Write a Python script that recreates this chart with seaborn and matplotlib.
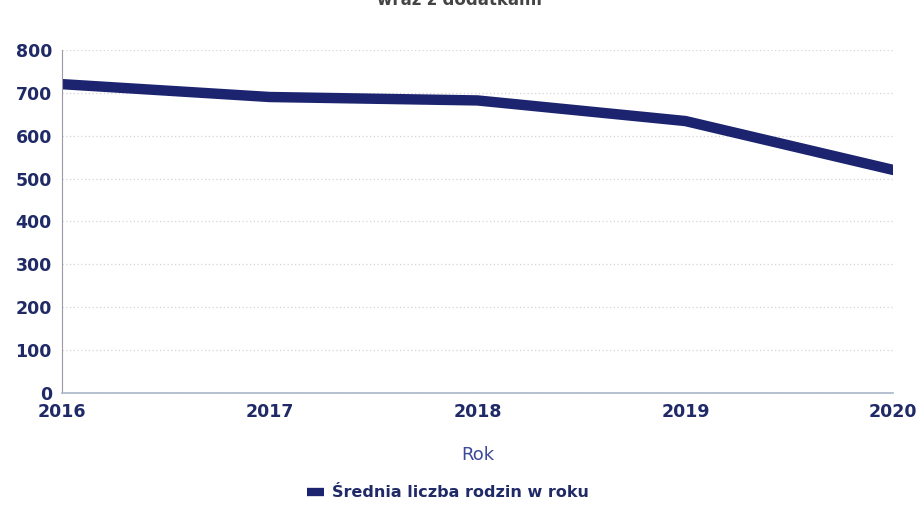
import pandas as pd
import matplotlib.pyplot as plt
import seaborn as sns

# data
years = [2016, 2017, 2018, 2019, 2020]
families = [720, 690, 682, 634, 520]
series_name = "Średnia liczba rodzin w roku"

df = pd.DataFrame({"Rok": years, "value": families})

navy = "#1c2470"
text_col = "#1f2a66"

sns.set_style("white")
plt.rcParams["font.family"] = ["DejaVu Sans"]

fig = plt.figure(figsize=(9.2, 5.08), dpi=100)
ax = fig.add_axes([0.067, 0.226, 0.904, 0.676])

sns.lineplot(data=df, x="Rok", y="value", ax=ax, color=navy, linewidth=7.5,
             label=series_name, legend=False)

ax.set_xlim(2016, 2020)
ax.set_ylim(0, 800)
ax.set_xticks(years)
ax.set_yticks(range(0, 801, 100))
ax.tick_params(axis="both", length=0, labelsize=12.5, colors=text_col, pad=7)
for lbl in ax.get_xticklabels() + ax.get_yticklabels():
    lbl.set_fontweight("bold")

# faint dotted gridlines
ax.yaxis.grid(True, color="#d4d4d8", linestyle=(0, (1, 2)), linewidth=0.9)
ax.xaxis.grid(False)
for s in ["top", "right"]:
    ax.spines[s].set_visible(False)
ax.spines["left"].set_color("#9a9aa6")
ax.spines["left"].set_linestyle((0, (1, 1)))
ax.spines["bottom"].set_color("#a8b6c8")
ax.spines["bottom"].set_linewidth(1.2)

ax.set_xlabel("Rok", fontsize=13, color="#3d4a9a", labelpad=18)
ax.set_ylabel("")

# title cut off by the top edge in the source
fig.text(0.5, 1.0, "wraz z dodatkami", ha="center", va="center",
         fontsize=12, fontweight="bold", color="#444")

handle = plt.Line2D([], [], color=navy, linewidth=6, solid_capstyle="butt")
fig.legend([handle], [series_name], loc="center", bbox_to_anchor=(0.487, 0.03),
           frameon=False, handlelength=1.1, handletextpad=0.5,
           prop={"weight": "bold", "size": 11.5}, labelcolor=text_col)

fig.savefig("out.png", dpi=100)
